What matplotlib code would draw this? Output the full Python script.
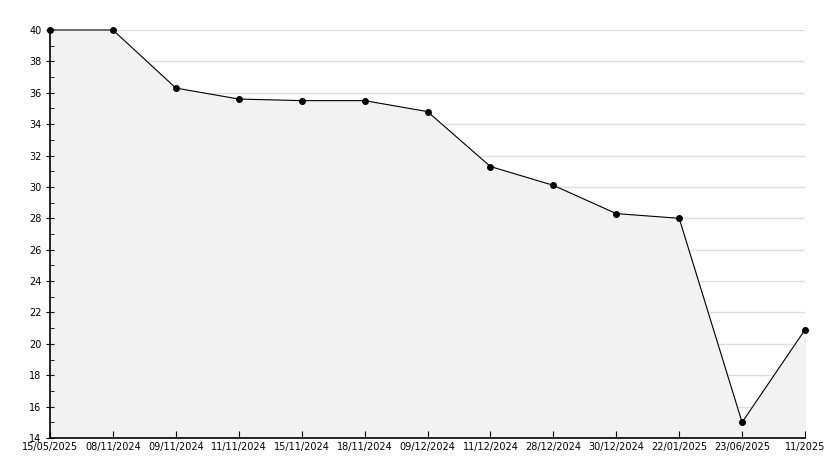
import matplotlib.pyplot as plt
import numpy as np

dates = ["15/05/2025", "08/11/2024", "09/11/2024", "11/11/2024", "15/11/2024",
         "18/11/2024", "09/12/2024", "11/12/2024", "28/12/2024", "30/12/2024",
         "22/01/2025", "23/06/2025", "11/2025"]
values = [40, 40, 36.3, 35.6, 35.5, 35.5, 34.8, 31.3, 30.1, 28.3, 28.0, 15.0, 20.9]

x = np.arange(len(values))

fig = plt.figure(figsize=(8.34, 4.68), dpi=100)
ax = fig.add_axes([50 / 834, 30 / 468, 755 / 834, 408 / 468])

ymin, ymax = 14, 40
for g in range(16, 41, 2):
    ax.axhline(g, color="#dddddd", lw=1, zorder=0)

ax.fill_between(x, values, ymin, color="#f2f2f2", zorder=1)
ax.plot(x, values, color="black", lw=0.8, marker="o", ms=4, zorder=3, clip_on=False)

ax.set_xlim(0, len(values) - 1)
ax.set_ylim(ymin, ymax)
ax.set_xticks(x)
ax.set_xticklabels(dates)
ax.set_yticks(range(14, 41, 2))
ax.set_yticks(range(15, 40, 2), minor=True)

for s in ["top", "right"]:
    ax.spines[s].set_visible(False)
ax.spines["left"].set_linewidth(1.2)
ax.spines["bottom"].set_linewidth(1.2)

ax.tick_params(axis="x", direction="in", length=5, labelsize=7, pad=3)
ax.tick_params(axis="y", which="major", direction="inout", length=6, labelsize=7, pad=3)
ax.tick_params(axis="y", which="minor", direction="in", length=3)

fig.savefig("out.png", dpi=100)
